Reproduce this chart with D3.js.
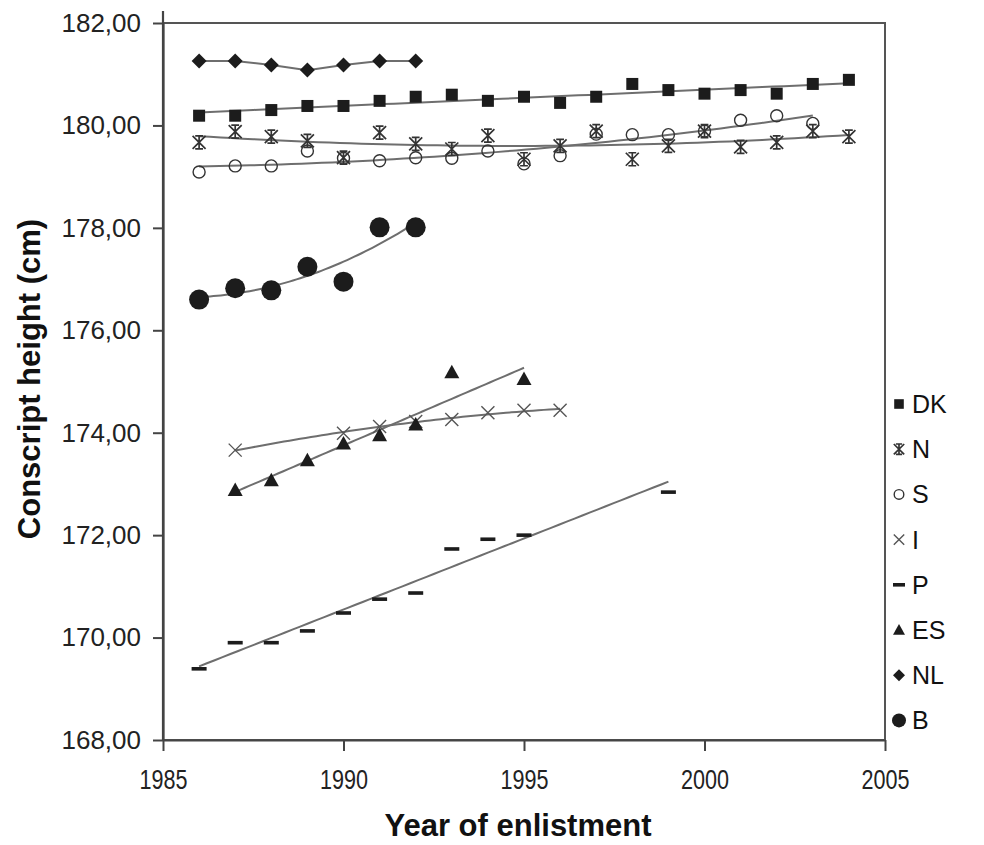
<!DOCTYPE html>
<html><head><meta charset="utf-8">
<script src="https://cdn.jsdelivr.net/npm/d3@7"></script>
<style>body{margin:0;background:#fff} text{font-family:"Liberation Sans",Arial,sans-serif}</style>
</head><body><svg id="c" width="984" height="845"></svg>
<script>
// ---- data ----
const seriesNames = ["DK","N","S","I","P","ES","NL","B"];
const dkYears = [1986,1987,1988,1989,1990,1991,1992,1993,1994,1995,1996,1997,1998,1999,2000,2001,2002,2003,2004];
const dkValues = [180.19,180.19,180.30,180.38,180.38,180.48,180.56,180.60,180.48,180.56,180.44,180.56,180.81,180.69,180.62,180.69,180.62,180.81,180.89];
const nYears = [1986,1987,1988,1989,1990,1991,1992,1993,1994,1995,1996,1997,1998,1999,2000,2001,2002,2003,2004];
const nValues = [179.67,179.88,179.78,179.70,179.37,179.86,179.64,179.54,179.80,179.34,179.60,179.89,179.34,179.60,179.89,179.58,179.67,179.89,179.78];
const sYears = [1986,1987,1988,1989,1990,1991,1992,1993,1994,1995,1996,1997,1998,1999,2000,2001,2002,2003];
const sValues = [179.09,179.21,179.21,179.50,179.36,179.31,179.37,179.36,179.50,179.25,179.41,179.83,179.82,179.82,179.89,180.10,180.19,180.04];
const iYears = [1987,1990,1991,1992,1993,1994,1995,1996];
const iValues = [173.66,173.99,174.12,174.22,174.26,174.39,174.44,174.44];
const pYears = [1986,1987,1988,1989,1990,1991,1992,1993,1994,1995,1999];
const pValues = [169.39,169.90,169.90,170.13,170.48,170.75,170.87,171.73,171.92,172.00,172.84];
const esYears = [1987,1988,1989,1990,1991,1992,1993,1995];
const esValues = [172.88,173.07,173.46,173.79,173.95,174.16,175.18,175.05];
const nlYears = [1986,1987,1988,1989,1990,1991,1992];
const nlValues = [181.26,181.26,181.18,181.08,181.18,181.26,181.26];
const bYears = [1986,1987,1988,1989,1990,1991,1992];
const bValues = [176.60,176.82,176.78,177.24,176.95,178.01,178.01];
// trend-line type per series (polynomial order; 0 = join the points)
const fitOrders = [1,2,2,2,1,1,0,2];
const xTickValues = [1985,1990,1995,2000,2005];
const yTickValues = [168,170,172,174,176,178,180,182];

const allYears = [dkYears,nYears,sYears,iYears,pYears,esYears,nlYears,bYears];
const allValues = [dkValues,nValues,sValues,iValues,pValues,esValues,nlValues,bValues];
const markerTypes = ["square","star","ocircle","x","dash","triangle","diamond","circle"];

const svg = d3.select("#c");
const x = d3.scaleLinear().domain([1985,2005]).range([163,885]);
const y = d3.scaleLinear().domain([168,182]).range([740,23]);

// frame
svg.append("rect").attr("x",x(1985)).attr("y",y(182)).attr("width",x(2005)-x(1985)).attr("height",y(168)-y(182))
  .attr("fill","none").attr("stroke","#555").attr("stroke-width",2);
svg.append("line").attr("x1",x(1985)).attr("x2",x(1985)).attr("y1",11).attr("y2",y(168)).attr("stroke","#444").attr("stroke-width",2.2);

const fmt = d => d3.format(".2f")(d).replace(".",",");
const ya = svg.append("g").attr("transform",`translate(${x(1985)},0)`)
  .call(d3.axisLeft(y).tickValues(yTickValues).tickFormat(fmt).tickSize(10).tickSizeOuter(0).tickPadding(12));
ya.select(".domain").attr("stroke","#444").attr("stroke-width",2.2);
ya.selectAll(".tick line").attr("stroke","#444").attr("stroke-width",2);
ya.selectAll(".tick text").attr("font-size",26).attr("fill","#222").style("font-family","Liberation Sans, Arial");

const xa = svg.append("g").attr("transform",`translate(0,${y(168)})`)
  .call(d3.axisBottom(x).tickValues(xTickValues).tickFormat(d3.format("d")).tickSize(11).tickSizeOuter(0).tickPadding(19));
xa.select(".domain").attr("stroke","#444").attr("stroke-width",2.2);
xa.selectAll(".tick line").attr("stroke","#444").attr("stroke-width",2);
xa.selectAll(".tick text").attr("font-size",27).attr("fill","#222").attr("textLength",48).attr("lengthAdjust","spacingAndGlyphs").style("font-family","Liberation Sans, Arial");

// titles
svg.append("text").attr("x",518).attr("y",836).attr("text-anchor","middle").attr("font-size",31).attr("font-weight","bold")
  .attr("fill","#111").text("Year of enlistment");
svg.append("text").attr("transform","translate(40,379) rotate(-90)").attr("text-anchor","middle").attr("font-size",31).attr("font-weight","bold")
  .attr("fill","#111").text("Conscript height (cm)");

// polynomial least squares
function polyfit(xs, ys, order){
  const m = d3.mean(xs);
  const n = order+1;
  const A = Array.from({length:n},()=>new Array(n+1).fill(0));
  xs.forEach((xv,k)=>{
    const t = xv-m;
    for(let i=0;i<n;i++){
      for(let j=0;j<n;j++) A[i][j]+=Math.pow(t,i+j);
      A[i][n]+=ys[k]*Math.pow(t,i);
    }
  });
  for(let i=0;i<n;i++){
    let p=i; for(let r=i+1;r<n;r++) if(Math.abs(A[r][i])>Math.abs(A[p][i])) p=r;
    [A[i],A[p]]=[A[p],A[i]];
    for(let r=0;r<n;r++){ if(r===i) continue; const f=A[r][i]/A[i][i]; for(let c=i;c<=n;c++) A[r][c]-=f*A[i][c]; }
  }
  const coef = A.map((row,i)=>row[n]/row[i]);
  return t => coef.reduce((s,c,i)=>s+c*Math.pow(t-m,i),0);
}

const line = d3.line().x(d=>x(d[0])).y(d=>y(d[1]));
const linesG = svg.append("g");
seriesNames.forEach((name,si)=>{
  const xs = allYears[si], ys = allValues[si];
  let pts;
  if(fitOrders[si]===0){ pts = xs.map((v,k)=>[v,ys[k]]); }
  else {
    const f = polyfit(xs, ys, fitOrders[si]);
    const x0 = d3.min(xs), x1 = d3.max(xs);
    pts = d3.range(0,61).map(k=>{ const t = x0+(x1-x0)*k/60; return [t,f(t)]; });
  }
  linesG.append("path").attr("d",line(pts)).attr("fill","none").attr("stroke","#6e6e6e").attr("stroke-width",2);
});

function marker(g, type, cx, cy, s){
  const dark = "#1c1c1c";
  switch(type){
    case "square": g.append("rect").attr("x",cx-6*s).attr("y",cy-6*s).attr("width",12*s).attr("height",12*s).attr("fill",dark); break;
    case "star": { const h=6.5*s; g.append("path").attr("d",`M${cx-h},${cy-h}L${cx+h},${cy+h}M${cx-h},${cy+h}L${cx+h},${cy-h}M${cx},${cy-h}L${cx},${cy+h}M${cx-h*0.6},${cy-h}L${cx+h*0.6},${cy-h}M${cx-h*0.6},${cy+h}L${cx+h*0.6},${cy+h}`)
      .attr("stroke","#333").attr("stroke-width",1.7).attr("fill","none"); break; }
    case "ocircle": g.append("circle").attr("cx",cx).attr("cy",cy).attr("r",6*s).attr("fill","none").attr("stroke","#333").attr("stroke-width",1.4); break;
    case "x": { const h=6.5*s; g.append("path").attr("d",`M${cx-h},${cy-h}L${cx+h},${cy+h}M${cx-h},${cy+h}L${cx+h},${cy-h}`)
      .attr("stroke","#555").attr("stroke-width",1.4).attr("fill","none"); break; }
    case "dash": g.append("rect").attr("x",cx-7.5*s).attr("y",cy-1.8).attr("width",15*s).attr("height",3.6).attr("fill",dark); break;
    case "triangle": { const h=7.5*s; g.append("path").attr("d",`M${cx},${cy-h}L${cx+h},${cy+h*0.8}L${cx-h},${cy+h*0.8}Z`).attr("fill",dark); break; }
    case "diamond": { const h=7.5*s; g.append("path").attr("d",`M${cx},${cy-h}L${cx+h},${cy}L${cx},${cy+h}L${cx-h},${cy}Z`).attr("fill",dark); break; }
    case "circle": g.append("circle").attr("cx",cx).attr("cy",cy).attr("r",10*s).attr("fill",dark); break;
  }
}

const mG = svg.append("g");
seriesNames.forEach((name,si)=>{
  allYears[si].forEach((yr,k)=> marker(mG, markerTypes[si], x(yr), y(allValues[si][k]), 1));
});

// legend
const lg = svg.append("g");
const legendTop = 404, legendStep = 45.2;
seriesNames.forEach((name,si)=>{
  const cy = legendTop + si*legendStep;
  marker(lg, markerTypes[si], 899, cy, si===7?0.7:0.8);
  lg.append("text").attr("x",912).attr("y",cy+9).attr("font-size",25).attr("fill","#111").text(name);
});
</script></body></html>
